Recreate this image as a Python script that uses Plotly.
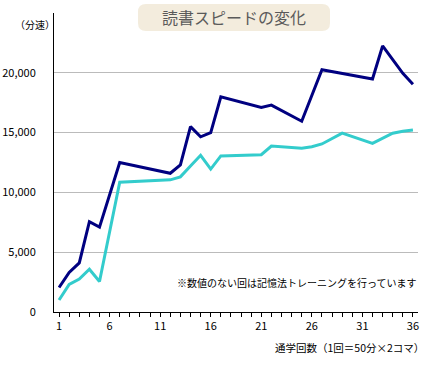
import plotly.graph_objects as go

# ---- data ----
sessions = list(range(1, 37))
speed_dark = [2050, 3300, 4100, 7550, 7100, None, 12500, None, None, None, None, 11600,
              12300, 15500, 14650, 15000, 18000, None, None, None, 17100, 17300, None, None,
              15950, None, 20250, None, None, None, None, 19480, 22250, None, 19950, 19050]
speed_light = [1000, 2300, 2750, 3580, 2550, None, 10850, None, None, None, None, 11050,
               11300, 12200, 13100, 11950, 13050, None, None, None, 13150, 13880, None, None,
               13700, 13820, 14050, None, 14950, None, None, 14100, 14550, 14950, 15120, 15220]
x_tick_vals = [1, 6, 11, 16, 21, 26, 31, 36]
y_tick_vals = [0, 5000, 10000, 15000, 20000]
y_tick_text = ["0", "5,000", "10,000", "15,000", "20,000"]

title_text = "読書スピードの変化"
unit_text = "（分速）"
x_title_text = "通学回数（1回＝50分×2コマ）"
note_text = "※数値のない回は記憶法トレーニングを行っています"

FONT = "Noto Sans CJK JP"

fig = go.Figure()
fig.add_trace(go.Scatter(x=sessions, y=speed_dark, mode="lines", connectgaps=True,
                         line=dict(color="#000080", width=3), showlegend=False,
                         hoverinfo="skip"))
fig.add_trace(go.Scatter(x=sessions, y=speed_light, mode="lines", connectgaps=True,
                         line=dict(color="#33CCCC", width=3), showlegend=False,
                         hoverinfo="skip"))

W, H = 432, 368
L, R, T, B = 54, 14, 13, 56
pw, ph = W - L - R, H - T - B

def px2paper(px, py):
    return (px - L) / pw, (H - B - py) / ph

# rounded title box
x0, y0 = 138, 4
x1, y1 = 330, 31
r = 8
ax0, ay0 = px2paper(x0, y0)
ax1, ay1 = px2paper(x1, y1)
rx, ry = r / pw, r / ph
path = (f"M {ax0+rx},{ay0} L {ax1-rx},{ay0} Q {ax1},{ay0} {ax1},{ay0-ry} "
        f"L {ax1},{ay1+ry} Q {ax1},{ay1} {ax1-rx},{ay1} L {ax0+rx},{ay1} "
        f"Q {ax0},{ay1} {ax0},{ay1+ry} L {ax0},{ay0-ry} Q {ax0},{ay0} {ax0+rx},{ay0} Z")
fig.add_shape(type="path", path=path, xref="paper", yref="paper",
              fillcolor="#F3ECDD", line=dict(width=0), layer="below")

tx, ty = px2paper(234, 17.5)
fig.add_annotation(text=title_text, x=tx, y=ty, xref="paper", yref="paper",
                   showarrow=False, xanchor="center", yanchor="middle",
                   font=dict(family=FONT, size=16, color="#5a5a5a"))
ux, uy = px2paper(13, 25)
fig.add_annotation(text=unit_text, x=ux, y=uy, xref="paper", yref="paper",
                   showarrow=False, xanchor="left", yanchor="middle",
                   font=dict(family=FONT, size=10, color="#000000"))
nx, ny = px2paper(419, 282)
fig.add_annotation(text=note_text, x=nx, y=ny, xref="paper", yref="paper",
                   showarrow=False, xanchor="right", yanchor="middle",
                   font=dict(family=FONT, size=10, color="#000000"))
xtx, xty = px2paper(426, 347)
fig.add_annotation(text=x_title_text, x=xtx, y=xty, xref="paper", yref="paper",
                   showarrow=False, xanchor="right", yanchor="middle",
                   font=dict(family=FONT, size=10.5, color="#000000"))

fig.update_layout(
    width=W, height=H,
    margin=dict(l=L, r=R, t=T, b=B, pad=0, autoexpand=False),
    paper_bgcolor="white", plot_bgcolor="white",
    font=dict(family=FONT, size=10, color="#000000"),
    hovermode=False,
    xaxis=dict(range=[0.5, 36.5], tickvals=x_tick_vals, ticks="outside", ticklen=4,
               tickcolor="black", showline=True, linecolor="black", linewidth=1,
               showgrid=False, zeroline=False, tickfont=dict(size=11), automargin=False,
               minor=dict(dtick=1, tick0=1, ticks="outside", ticklen=4, tickcolor="black",
                          showgrid=False)),
    yaxis=dict(range=[0, 25000], tickvals=y_tick_vals, ticktext=y_tick_text,
               ticks="", showline=True, linecolor="black", linewidth=1,
               showgrid=True, gridcolor="#BBBBBB", gridwidth=1, zeroline=False,
               ticklabelstandoff=15, tickfont=dict(size=11), automargin=False),
)

fig.write_html("out.html", config={"displayModeBar": False},
               post_script="document.body.style.margin='0';")
